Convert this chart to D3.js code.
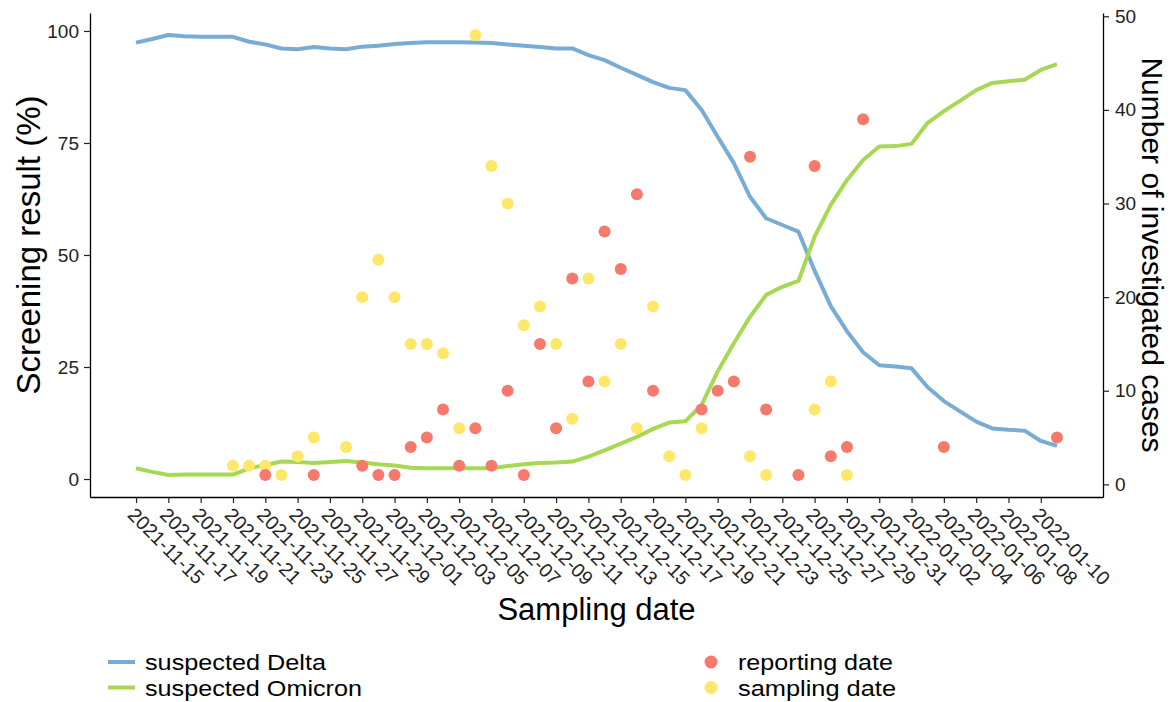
<!DOCTYPE html>
<html>
<head>
<meta charset="utf-8">
<script src="https://cdn.jsdelivr.net/npm/d3@7"></script>
<style>
  body { margin: 0; background: #fff; }
  svg text { font-family: "Liberation Sans", Arial, sans-serif; }
</style>
</head>
<body>
<div id="chart"></div>
<script>
// Daily screening result (%), starting 2021-11-15
var lineStart = "2021-11-15";
var deltaPct = [97.4, 98.2, 99.1, 98.8, 98.7, 98.7, 98.7, 97.6, 97.0, 96.1,
  95.9, 96.4, 96.1, 95.9, 96.5, 96.7, 97.1, 97.3, 97.5, 97.5,
  97.5, 97.4, 97.3, 97.0, 96.7, 96.4, 96.1, 96.1, 94.6, 93.5,
  91.8, 90.2, 88.6, 87.3, 86.8, 82.4, 76.4, 70.5, 63.0, 58.2,
  56.7, 55.2, 46.5, 38.6, 33.0, 28.3, 25.4, 25.1, 24.7, 20.5,
  17.4, 15.1, 12.8, 11.3, 11.0, 10.8, 8.5, 7.4];
var omicronPct = [2.4, 1.6, 0.9, 1.0, 1.0, 1.0, 1.0, 2.4, 3.1, 3.9,
  3.8, 3.6, 3.8, 4.0, 3.7, 3.3, 3.0, 2.5, 2.4, 2.4,
  2.4, 2.4, 2.4, 2.9, 3.3, 3.6, 3.7, 3.9, 5.0, 6.4,
  7.9, 9.4, 11.2, 12.6, 12.9, 16.5, 24.0, 30.3, 36.2, 41.1,
  42.9, 44.2, 54.1, 61.2, 66.7, 71.2, 74.2, 74.3, 74.8, 79.5,
  82.1, 84.4, 86.8, 88.4, 88.8, 89.1, 91.3, 92.6];

// Number of investigated cases
var samplingDates = ["2021-11-21", "2021-11-22", "2021-11-23", "2021-11-24", "2021-11-25", "2021-11-26",
  "2021-11-28", "2021-11-29", "2021-11-30", "2021-12-01", "2021-12-02", "2021-12-03", "2021-12-04",
  "2021-12-05", "2021-12-06", "2021-12-07", "2021-12-08", "2021-12-09", "2021-12-10", "2021-12-11",
  "2021-12-12", "2021-12-13", "2021-12-14", "2021-12-15", "2021-12-16", "2021-12-17", "2021-12-18",
  "2021-12-19", "2021-12-20", "2021-12-23", "2021-12-24", "2021-12-27", "2021-12-28", "2021-12-29"];
var samplingCases = [2, 2, 2, 1, 3, 5, 4, 20, 24, 20, 15, 15, 14, 6, 48, 34, 30, 17, 19, 15,
  7, 22, 11, 15, 6, 19, 3, 1, 6, 3, 1, 8, 11, 1];
var reportingDates = ["2021-11-23", "2021-11-26", "2021-11-29", "2021-11-30", "2021-12-01", "2021-12-02",
  "2021-12-03", "2021-12-04", "2021-12-05", "2021-12-06", "2021-12-07", "2021-12-08", "2021-12-09",
  "2021-12-10", "2021-12-11", "2021-12-12", "2021-12-13", "2021-12-14", "2021-12-15", "2021-12-16",
  "2021-12-17", "2021-12-20", "2021-12-21", "2021-12-22", "2021-12-23", "2021-12-24", "2021-12-26",
  "2021-12-27", "2021-12-28", "2021-12-29", "2021-12-30", "2022-01-04", "2022-01-11"];
var reportingCases = [1, 1, 2, 1, 1, 4, 5, 8, 2, 6, 2, 10, 1, 15, 6, 22, 11, 27, 23, 31,
  10, 8, 10, 11, 35, 8, 1, 34, 3, 4, 39, 4, 5];

// Axis ticks
var xTicks = ["2021-11-15", "2021-11-17", "2021-11-19", "2021-11-21", "2021-11-23", "2021-11-25",
  "2021-11-27", "2021-11-29", "2021-12-01", "2021-12-03", "2021-12-05", "2021-12-07", "2021-12-09",
  "2021-12-11", "2021-12-13", "2021-12-15", "2021-12-17", "2021-12-19", "2021-12-21", "2021-12-23",
  "2021-12-25", "2021-12-27", "2021-12-29", "2021-12-31", "2022-01-02", "2022-01-04", "2022-01-06",
  "2022-01-08", "2022-01-10"];
var yLeftTicks = [0, 25, 50, 75, 100];
var yRightTicks = [0, 10, 20, 30, 40, 50];

var colDelta = "#78acd4", colOmicron = "#a6d854";
var colReport = "#f57a6c", colSample = "#ffe76a";

var W = 1171, H = 702;
var margin = {top: 13, right: 68, bottom: 205, left: 90};
var width = W - margin.left - margin.right,
    height = H - margin.top - margin.bottom;

var svg = d3.select("#chart").append("svg")
  .attr("width", W).attr("height", H);
var g = svg.append("g")
  .attr("transform", "translate(" + margin.left + "," + margin.top + ")");

var parse = d3.timeParse("%Y-%m-%d");
var start = parse(lineStart);
var lineData = deltaPct.map(function (v, i) {
  return {date: d3.timeDay.offset(start, i), delta: v, omicron: omicronPct[i]};
});
var sampling = samplingDates.map(function (d, i) { return {date: parse(d), n: samplingCases[i]}; });
var reporting = reportingDates.map(function (d, i) { return {date: parse(d), n: reportingCases[i]}; });

// ggplot-like 5% expansion
function expand(ext) {
  var pad = (ext[1] - ext[0]) * 0.05;
  return [ext[0] - pad, ext[1] + pad];
}
var xExt = d3.extent(lineData, function (d) { return d.date; });
var xPad = (xExt[1] - xExt[0]) * 0.05;
var x = d3.scaleTime()
  .domain([new Date(+xExt[0] - xPad), new Date(+xExt[1] + xPad)])
  .range([0, width]);

var yL = d3.scaleLinear()
  .domain(expand(d3.extent(deltaPct.concat(omicronPct))))
  .range([height, 0]);
var yR = d3.scaleLinear()
  .domain(expand(d3.extent(samplingCases.concat(reportingCases))))
  .range([height, 0]);

// Axes
var fmt = d3.timeFormat("%Y-%m-%d");
var xAxis = g.append("g")
  .attr("transform", "translate(0," + height + ")")
  .call(d3.axisBottom(x).tickValues(xTicks.map(parse)).tickFormat(fmt).tickSize(6).tickSizeOuter(0));
xAxis.selectAll("text")
  .attr("font-size", 19.5)
  .attr("fill", "#222")
  .attr("text-anchor", "start")
  .attr("dy", null)
  .attr("y", 0)
  .attr("transform", "translate(-10,19) rotate(45)");

var yLeft = g.append("g")
  .call(d3.axisLeft(yL).tickValues(yLeftTicks).tickSize(6).tickSizeOuter(0));
yLeft.selectAll("text").attr("font-size", 19).attr("fill", "#222").attr("x", -11);

var yRight = g.append("g")
  .attr("transform", "translate(" + width + ",0)")
  .call(d3.axisRight(yR).tickValues(yRightTicks).tickSize(6).tickSizeOuter(0));
yRight.selectAll("text").attr("font-size", 19).attr("fill", "#222").attr("x", 12);

g.selectAll(".domain").attr("stroke", "#000").attr("stroke-width", 1.3);
g.selectAll(".tick line").attr("stroke", "#222").attr("stroke-width", 1.2);

// Axis titles
svg.append("text")
  .attr("x", margin.left + width / 2).attr("y", 620)
  .attr("text-anchor", "middle").attr("font-size", 31)
  .text("Sampling date");
svg.append("text")
  .attr("transform", "translate(40," + (margin.top + height / 2 - 10) + ") rotate(-90)")
  .attr("text-anchor", "middle").attr("font-size", 33)
  .text("Screening result (%)");
svg.append("text")
  .attr("transform", "translate(1142," + (margin.top + height / 2) + ") rotate(90)")
  .attr("text-anchor", "middle").attr("font-size", 30)
  .text("Number of investigated cases");

// Lines
var lineDelta = d3.line()
  .x(function (d) { return x(d.date); })
  .y(function (d) { return yL(d.delta); });
var lineOmicron = d3.line()
  .x(function (d) { return x(d.date); })
  .y(function (d) { return yL(d.omicron); });

g.append("path").datum(lineData)
  .attr("d", lineDelta)
  .attr("fill", "none").attr("stroke", colDelta)
  .attr("stroke-width", 4).attr("stroke-linejoin", "round");
g.append("path").datum(lineData)
  .attr("d", lineOmicron)
  .attr("fill", "none").attr("stroke", colOmicron)
  .attr("stroke-width", 4).attr("stroke-linejoin", "round");

// Points
g.selectAll(".samp").data(sampling).enter().append("circle")
  .attr("class", "samp")
  .attr("cx", function (d) { return x(d.date); })
  .attr("cy", function (d) { return yR(d.n); })
  .attr("r", 6).attr("fill", colSample);
g.selectAll(".rep").data(reporting).enter().append("circle")
  .attr("class", "rep")
  .attr("cx", function (d) { return x(d.date); })
  .attr("cy", function (d) { return yR(d.n); })
  .attr("r", 6).attr("fill", colReport);

// Legends
var lineKeys = ["suspected Delta", "suspected Omicron"];
var lineCols = [colDelta, colOmicron];
var lg1 = svg.selectAll(".lg1").data(lineKeys).enter().append("g")
  .attr("class", "lg1")
  .attr("transform", function (d, i) { return "translate(108," + (662 + i * 25.5) + ")"; });
lg1.append("line")
  .attr("x1", 0).attr("x2", 27).attr("y1", 0).attr("y2", 0)
  .attr("stroke", function (d, i) { return lineCols[i]; })
  .attr("stroke-width", 4);
lg1.append("text")
  .attr("x", 37).attr("y", 8)
  .attr("font-size", 22.5)
  .attr("textLength", function (d, i) { return i === 0 ? 181 : 217; })
  .attr("lengthAdjust", "spacingAndGlyphs")
  .text(function (d) { return d; });

var dotKeys = ["reporting date", "sampling date"];
var dotCols = [colReport, colSample];
var lg2 = svg.selectAll(".lg2").data(dotKeys).enter().append("g")
  .attr("class", "lg2")
  .attr("transform", function (d, i) { return "translate(711," + (662 + i * 25.5) + ")"; });
lg2.append("circle")
  .attr("r", 6.5)
  .attr("fill", function (d, i) { return dotCols[i]; });
lg2.append("text")
  .attr("x", 27).attr("y", 8)
  .attr("font-size", 22.5)
  .attr("textLength", function (d, i) { return i === 0 ? 155 : 158; })
  .attr("lengthAdjust", "spacingAndGlyphs")
  .text(function (d) { return d; });
</script>
</body>
</html>
